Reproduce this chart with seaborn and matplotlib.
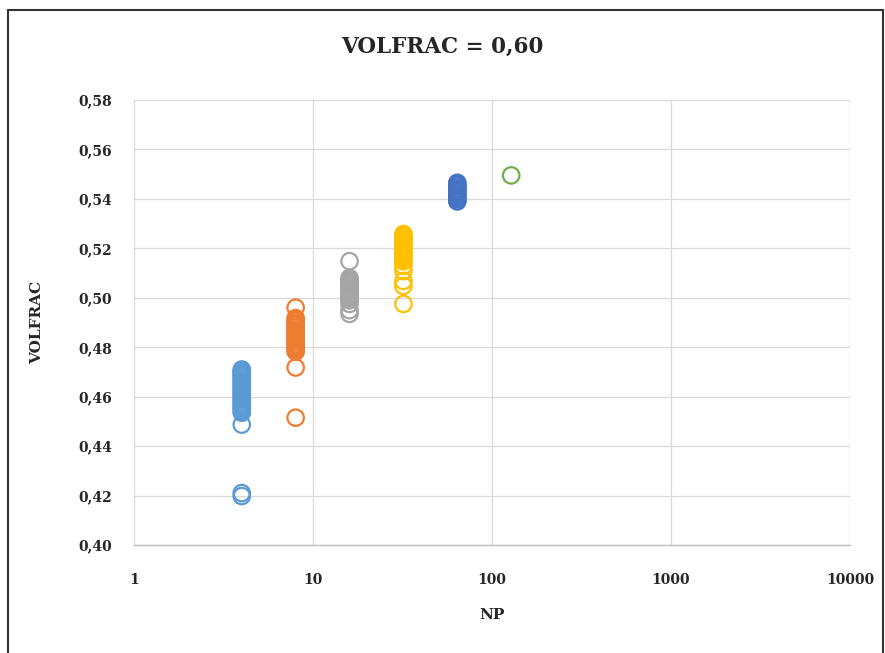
import numpy as np
import pandas as pd
import matplotlib.pyplot as plt
import seaborn as sns
from matplotlib.lines import Line2D
from matplotlib.ticker import FixedLocator, NullLocator

# values
np4 = [0.4710, 0.4705, 0.4700, 0.4692, 0.4685, 0.4678, 0.4670, 0.4662, 0.4655,
       0.4648, 0.4640, 0.4632, 0.4625, 0.4618, 0.4610, 0.4602, 0.4595, 0.4588,
       0.4580, 0.4572, 0.4565, 0.4558, 0.4550, 0.4542, 0.4535, 0.4487, 0.4210, 0.4198]
np8 = [0.4960, 0.4918, 0.4910, 0.4903, 0.4895, 0.4888, 0.4880, 0.4872, 0.4865,
       0.4858, 0.4850, 0.4842, 0.4835, 0.4828, 0.4820, 0.4812, 0.4805, 0.4798, 0.4790,
       0.4782, 0.4718, 0.4515]
np16 = [0.5148, 0.5080, 0.5072, 0.5065, 0.5058, 0.5050, 0.5042, 0.5035, 0.5028,
        0.5020, 0.5012, 0.5005, 0.4998, 0.4990, 0.4975, 0.4950, 0.4935]
np32 = [0.5258, 0.5252, 0.5245, 0.5238, 0.5230, 0.5222, 0.5215, 0.5208, 0.5200,
        0.5192, 0.5185, 0.5178, 0.5170, 0.5162, 0.5155, 0.5148, 0.5130, 0.5108,
        0.5068, 0.5048, 0.4975]
np64 = [0.5465, 0.5458, 0.5450, 0.5442, 0.5435, 0.5428, 0.5420, 0.5412, 0.5405, 0.5398, 0.5390]
np128 = [0.5495]

np_values = [4, 8, 16, 32, 64, 128]
groups = [np4, np8, np16, np32, np64, np128]
colors = ["#5B9BD5", "#ED7D31", "#A5A5A5", "#FFC000", "#4472C4", "#70AD47"]

x_ticks = [1, 10, 100, 1000, 10000]
y_ticks = [0.40, 0.42, 0.44, 0.46, 0.48, 0.50, 0.52, 0.54, 0.56, 0.58]

rows = []
for n, vals in zip(np_values, groups):
    for v in vals:
        rows.append({"NP": n, "VOLFRAC": v})
df = pd.DataFrame(rows)

sns.set_style("white")
plt.rcParams["font.family"] = ["DejaVu Serif"]

fig = plt.figure(figsize=(8.85, 6.53), dpi=100)
ax = fig.add_axes([134 / 885, 1 - 545 / 653, 716 / 885, 445 / 653])

sns.scatterplot(data=df, x="NP", y="VOLFRAC", hue="NP", palette=colors,
                s=140, linewidth=1.6, legend=False, ax=ax)
# hollow circles with coloured edges
ec = [colors[np_values.index(n)] for n in df["NP"]]
ax.collections[0].set_facecolor("none")
ax.collections[0].set_edgecolor(ec)

ax.set_xscale("log")
ax.set_xlim(1, 10000)
ax.set_ylim(0.40, 0.58)
ax.xaxis.set_major_locator(FixedLocator(x_ticks))
ax.xaxis.set_minor_locator(NullLocator())
ax.set_xticklabels([str(t) for t in x_ticks])
ax.set_yticks(y_ticks)
ax.set_yticklabels([f"{t:.2f}".replace(".", ",") for t in y_ticks])
ax.tick_params(axis="x", length=0, pad=20, labelsize=10, labelcolor="#262626")
ax.tick_params(axis="y", length=0, pad=16, labelsize=10, labelcolor="#262626")
for lab in ax.get_xticklabels() + ax.get_yticklabels():
    lab.set_fontweight("bold")

ax.grid(True, color="#D9D9D9", linewidth=0.9)
ax.set_axisbelow(True)
for side in ["top", "right", "left"]:
    ax.spines[side].set_visible(False)
ax.spines["bottom"].set_color("#BFBFBF")
ax.spines["bottom"].set_linewidth(1.0)

ax.set_xlabel("NP", fontsize=11, fontweight="bold", labelpad=15, color="#262626")
ax.set_ylabel("VOLFRAC", fontsize=11, fontweight="bold", labelpad=24, color="#262626")
fig.text(0.5, 1 - 47 / 653, "VOLFRAC = 0,60", ha="center", va="center",
         fontsize=15.5, fontweight="bold", color="#262626")

# outer frame of the chart area
frame = dict(color="#333333", lw=1.5, transform=fig.transFigure)
fig.add_artist(Line2D([8 / 885, 8 / 885], [0, 1 - 10 / 653], **frame))
fig.add_artist(Line2D([8 / 885, 883 / 885], [1 - 10 / 653, 1 - 10 / 653], **frame))
fig.add_artist(Line2D([883 / 885, 883 / 885], [0, 1 - 10 / 653], **frame))

fig.savefig("out.png", dpi=100, facecolor="white")
